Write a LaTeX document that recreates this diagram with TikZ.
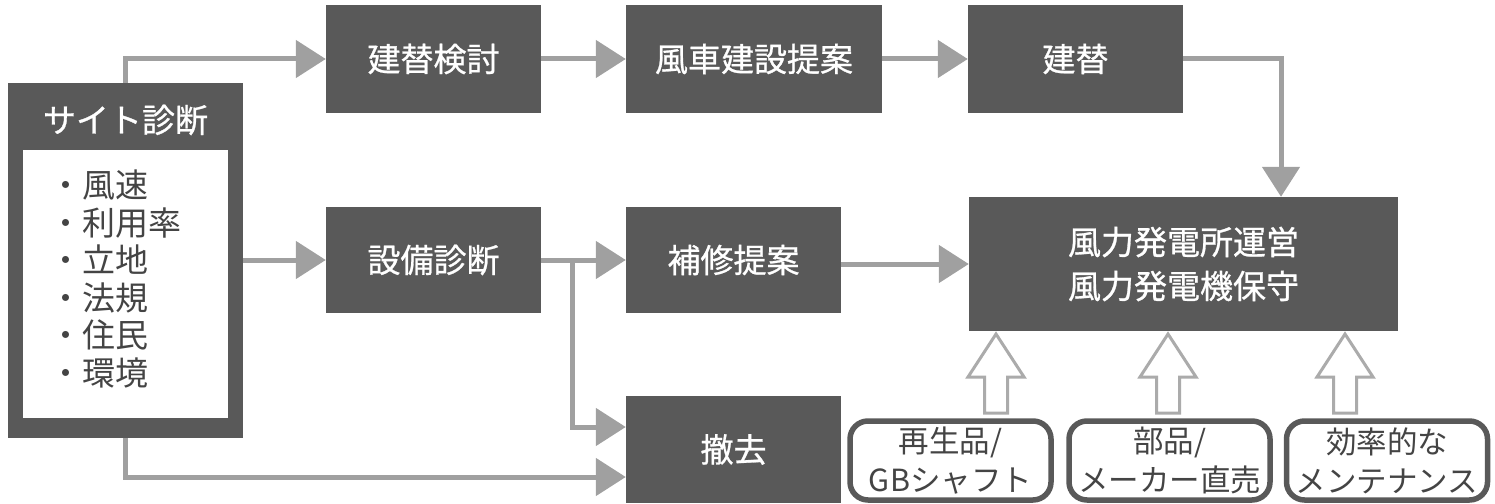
\documentclass[tikz,border=0pt]{standalone}
\usepackage{fontspec}
\setmainfont{Noto Sans CJK JP}
\newfontfamily\boldish{Noto Sans CJK JP}[FakeBold=0.8]
\usetikzlibrary{arrows.meta}
\definecolor{boxc}{HTML}{595959}
\definecolor{arrc}{HTML}{A0A0A0}
\definecolor{holc}{HTML}{ABABAB}
\definecolor{txtc}{HTML}{444444}
\tikzset{
  dbox/.style={fill=boxc, draw=none, text=white, inner sep=0pt, font=\boldish\fontsize{33}{44}\selectfont, align=center},
  conn/.style={draw=arrc, line width=5pt, -{Triangle[length=30pt,width=37pt]}},
  rbox/.style={draw=boxc, line width=5.5pt, rounded corners=18pt, fill=white, text=txtc, inner sep=0pt,
    minimum width=201pt, minimum height=79pt, align=center, font=\fontsize{30.5}{39}\selectfont},
  hollow/.style={draw=holc, line width=3pt, fill=white, line join=miter}
}
\begin{document}
\begin{tikzpicture}[x=1pt,y=-1pt]
\useasboundingbox (0,0) rectangle (1495,503);
% site diagnosis
\node[dbox, minimum width=235pt, minimum height=355pt] (site) at (125.5,260.5) {};
\node[fill=white, inner sep=0pt, minimum width=205pt, minimum height=268pt] (inner) at (125.5,284) {};
\node[text=white, inner sep=0pt, font=\boldish\fontsize{33}{40}\selectfont] (sitet) at (125.5,120) {サイト診断};
\node[text=txtc, inner sep=0pt, anchor=west, align=left, font=\fontsize{33}{37.5}\selectfont] (list) at (49,279)
  {・風速\\・利用率\\・立地\\・法規\\・住民\\・環境};
% boxes
\node[dbox, minimum width=215pt, minimum height=108pt] (kento) at (433.5,59) {建替検討};
\node[dbox, minimum width=256pt, minimum height=108pt] (teian) at (754,59) {風車建設提案};
\node[dbox, minimum width=215pt, minimum height=108pt] (tatekae) at (1075.5,59) {建替};
\node[dbox, minimum width=429pt, minimum height=134pt] (unei) at (1183.5,264) {風力発電所運営\\風力発電機保守};
\node[dbox, minimum width=215pt, minimum height=106pt] (setsubi) at (433.5,260) {設備診断};
\node[dbox, minimum width=215pt, minimum height=106pt] (hoshu) at (733.5,260) {補修提案};
\node[dbox, minimum width=215pt, minimum height=107pt] (tekkyo) at (733.5,449.5) {撤去};
% bottom rounded boxes
\node[rbox] (r1) at (950.5,460.5) {再生品/\\GBシャフト};
\node[rbox] (r2) at (1169.5,460.5) {部品/\\メーカー直売};
\node[rbox] (r3) at (1387,460.5) {効率的な\\メンテナンス};
% connectors
\draw[conn] (site.north) |- (kento.west);
\draw[conn] (site.east |- setsubi.west) -- (setsubi.west);
\draw[conn] (site.south) |- ([yshift=-27.5pt]tekkyo.west);
\draw[conn] (setsubi.east) -- (hoshu.west);
\coordinate (br) at (572,260);
\draw[conn] (br) |- ([yshift=22.5pt]tekkyo.west);
\draw[conn] (hoshu.east |- unei.west) -- (unei.west);
\draw[conn] (kento.east) -- (teian.west);
\draw[conn] (teian.east) -- (tatekae.west);
\draw[conn] (tatekae.east) -| ([xshift=97.5pt]unei.north);
% hollow arrows
\foreach \cx in {996,1168,1345} {
  \draw[hollow] (\cx-11.5,413) -- (\cx-11.5,377) -- (\cx-28,377) -- (\cx,334) -- (\cx+28,377) -- (\cx+11.5,377) -- (\cx+11.5,413) -- cycle;
}
\end{tikzpicture}
\end{document}
